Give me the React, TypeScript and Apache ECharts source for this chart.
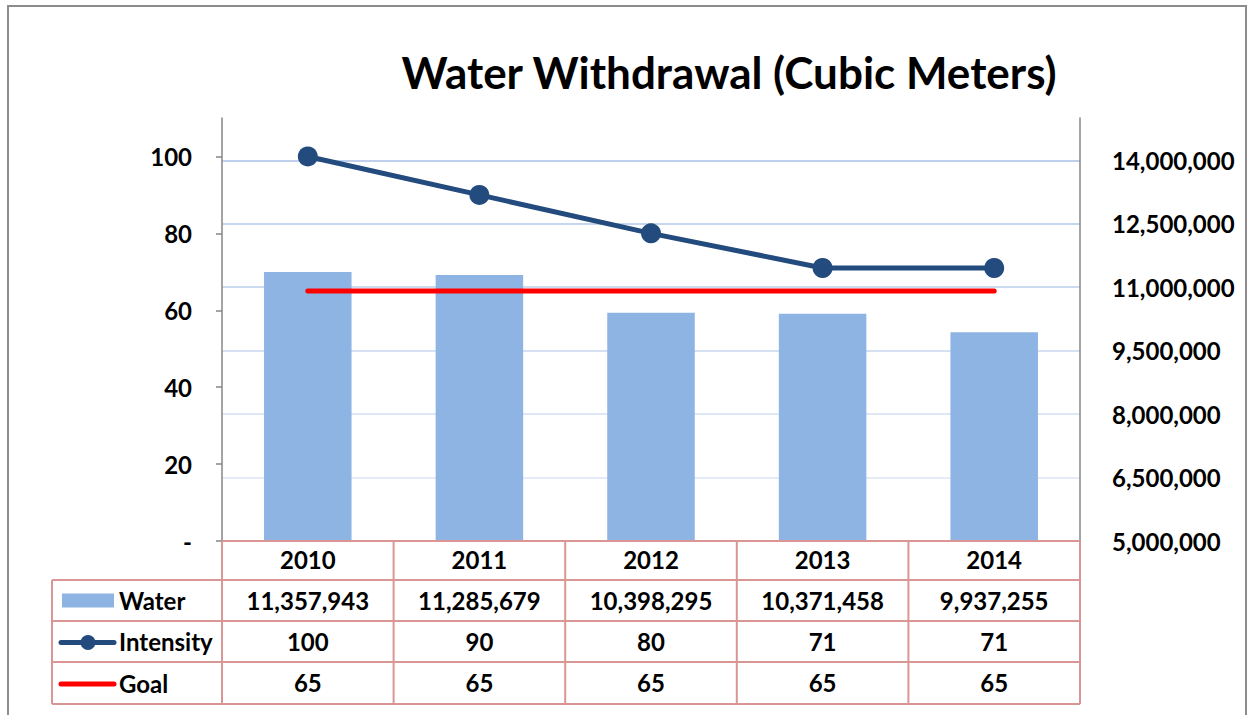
import React, { useEffect, useRef } from "react";
import * as echarts from "echarts";

const years = ["2010", "2011", "2012", "2013", "2014"];
const water = [11357943, 11285679, 10398295, 10371458, 9937255];
const intensity = [100, 90, 80, 71, 71];
const goal = [65, 65, 65, 65, 65];
const leftTicks = [0, 20, 40, 60, 80, 100];
const rightTicks = [5000000, 6500000, 8000000, 9500000, 11000000, 12500000, 14000000];
const seriesNames = ["Water", "Intensity", "Goal"];
const titleText = "Water Withdrawal (Cubic Meters)";

const FONT = "Lato, 'Open Sans', sans-serif";
const fmt = (n: number) => n.toLocaleString("en-US");

const GL = 222, GR = 1080, GT = 118, GB = 541;
const ROWS = [541, 580, 621, 662, 704];
const BORDER = "#d99694";
const BAR = "#8eb4e3";
const NAVY = "#234b7e";
const RED = "#ff0000";
const FS = 24;

export default function App() {
  const ref = useRef<HTMLDivElement>(null);
  useEffect(() => {
    if (!ref.current) return;
    const chart = echarts.init(ref.current, undefined, { renderer: "svg" });
    const colW = (GR - GL) / years.length;
    const lines: any[] = [];
    const ln = (x1: number, y1: number, x2: number, y2: number) =>
      lines.push({ type: "line", shape: { x1, y1, x2, y2 }, style: { stroke: BORDER, lineWidth: 2 }, z: 50 });
    ln(GL, ROWS[0], GR, ROWS[0]);
    for (let i = 1; i < ROWS.length; i++) ln(52, ROWS[i], GR, ROWS[i]);
    ln(52, ROWS[1], 52, ROWS[4]);
    for (let k = 0; k <= years.length; k++) ln(GL + colW * k, ROWS[0], GL + colW * k, ROWS[4]);

    const rowMid = (i: number) => (ROWS[i + 1] + ROWS[i + 2]) / 2;
    const legendEls: any[] = [
      { type: "rect", shape: { x: 62, y: rowMid(0) - 7, width: 52, height: 14 }, style: { fill: BAR }, z: 60 },
      { type: "line", shape: { x1: 61, y1: rowMid(1) + 1, x2: 114, y2: rowMid(1) + 1 }, style: { stroke: NAVY, lineWidth: 5, lineCap: "round" }, z: 60 },
      { type: "circle", shape: { cx: 88, cy: rowMid(1) + 1, r: 7.5 }, style: { fill: NAVY }, z: 61 },
      { type: "line", shape: { x1: 61, y1: rowMid(2) + 1, x2: 114, y2: rowMid(2) + 1 }, style: { stroke: RED, lineWidth: 5, lineCap: "round" }, z: 60 },
      ...seriesNames.map((n, i) => ({
        type: "text",
        x: 119,
        y: rowMid(i),
        z: 60,
        style: { text: n, fontSize: FS, fontWeight: "bold", fill: "#000", fontFamily: FONT, verticalAlign: "middle", align: "left" },
      })),
    ];

    chart.setOption({
      animation: false,
      textStyle: { fontFamily: FONT },
      grid: { left: GL, top: GT, width: GR - GL, height: GB - GT },
      legend: { show: false, data: seriesNames },
      xAxis: {
        type: "category",
        data: years,
        axisLine: { show: false },
        axisTick: { show: false },
        axisLabel: {
          margin: -2,
          interval: 0,
          formatter: (v: string, i: number) =>
            `{r|${v}}\n{r|${fmt(water[i])}}\n{r|${intensity[i]}}\n{r|${goal[i]}}`,
          rich: {
            r: { fontSize: FS, fontWeight: "bold", color: "#000", lineHeight: 41, fontFamily: FONT },
          },
        },
      },
      yAxis: [
        {
          type: "value",
          min: 0,
          max: 110,
          position: "left",
          axisLine: { show: true, lineStyle: { color: "#868686", width: 1.5 } },
          axisTick: { show: true, customValues: leftTicks, length: 6, lineStyle: { color: "#868686", width: 1.5 } },
          axisLabel: {
            customValues: leftTicks,
            margin: 30,
            fontSize: FS,
            fontWeight: "bold",
            color: "#000",
            formatter: (v: number) => (v === 0 ? "-" : String(v)),
          },
          splitLine: { show: false },
        },
        {
          type: "value",
          min: 5000000,
          max: 15000000,
          position: "right",
          axisLine: { show: true, lineStyle: { color: "#868686", width: 1.5 } },
          axisTick: { show: false, customValues: rightTicks },
          axisLabel: {
            customValues: rightTicks,
            margin: 32,
            fontSize: FS,
            fontWeight: "bold",
            color: "#000",
            formatter: (v: number) => fmt(v),
          },
          splitLine: {
            show: true,
            lineStyle: {
              width: 1.5,
              color: ["#ffffff", "#dce6f4", "#d2dff2", "#c7d7ef", "#bccfec", "#b2c8e9", "#a9c1e7"],
            },
          },
        },
      ],
      series: [
        {
          name: seriesNames[0],
          type: "bar",
          yAxisIndex: 1,
          data: water,
          barWidth: "51%",
          itemStyle: { color: BAR },
          z: 2,
        },
        {
          name: seriesNames[1],
          type: "line",
          yAxisIndex: 0,
          data: intensity,
          symbol: "circle",
          symbolSize: 20,
          itemStyle: { color: NAVY },
          lineStyle: { color: NAVY, width: 5 },
          z: 4,
        },
        {
          name: seriesNames[2],
          type: "line",
          yAxisIndex: 0,
          data: goal,
          symbol: "none",
          itemStyle: { color: RED },
          lineStyle: { color: RED, width: 5, cap: "round" },
          z: 3,
        },
      ],
      graphic: [
        {
          type: "rect",
          shape: { x: 8, y: 6, width: 1238, height: 720 },
          style: { fill: "none", stroke: "#8c8c8c", lineWidth: 2 },
          silent: true,
        },
        {
          type: "text",
          x: 729,
          y: 72,
          style: {
            text: titleText,
            align: "center",
            verticalAlign: "middle",
            fontSize: 44,
            fontWeight: "bold",
            fill: "#000",
            fontFamily: FONT,
          },
        },
        ...lines,
        ...legendEls,
      ],
    });
    return () => chart.dispose();
  }, []);
  return (
    <div
      ref={ref}
      style={{ position: "fixed", left: 0, top: 0, width: 1253, height: 715, background: "#fff" }}
    />
  );
}
